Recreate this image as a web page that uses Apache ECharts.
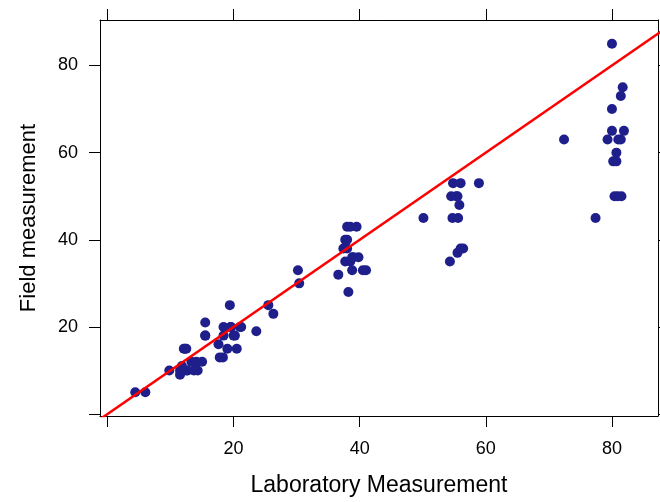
<!DOCTYPE html>
<html>
<head>
<meta charset="utf-8">
<script src="https://cdn.jsdelivr.net/npm/echarts@6/dist/echarts.min.js"></script>
<style>html,body{margin:0;padding:0;background:#fff;overflow:hidden}#c{width:660px;height:502px}</style>
</head>
<body>
<div id="c"></div>
<script>
// Laboratory measurement (x) and Field measurement (y)
const labX = [4.4,6.0,
  9.8,11.5,11.5,12.0,12.5,12.7,13.7,14.3,
  11.8,13.3,14.1,15.0,
  12.1,12.3,12.5,
  17.8,18.3,17.6,
  19.0,20.5,
  15.5,15.5,18.4,20.0,20.2,
  15.5,
  18.4,19.5,19.6,21.0,21.2,
  23.6,19.4,25.5,26.3,
  30.2,30.4,
  36.6,38.2,38.8,40.5,41.0,
  37.7,38.5,
  38.8,39.0,39.8,
  37.4,38.0,
  37.7,38.0,
  38.0,38.5,39.5,
  50.1,
  54.3,55.5,56.0,56.4,
  54.7,55.6,
  55.8,
  54.5,55.3,55.5,
  54.8,56.0,58.9,
  72.4,77.4,
  80.0,81.7,81.4,80.0,80.0,81.9,
  79.3,81.0,81.4,
  80.7,80.2,80.7,
  80.4,80.9,81.5];
const fieldY = [5,5,
  10,9,10,10,10,10,10,10,
  11,12,12,12,
  15,15,15,
  13,13,16,
  15,15,
  18,18,18,18,18,
  21,
  20,20,20,20,20,
  19,25,25,23,
  33,30,
  32,28,33,33,33,
  35,35,
  36,36,36,
  38,38,
  40,40,
  43,43,43,
  45,
  35,37,38,38,
  45,45,
  48,
  50,50,50,
  53,53,53,
  63,45,
  85,75,73,70,65,65,
  63,63,63,
  60,58,58,
  50,50,50];
const tickValues = [0,20,40,60,80];
const labelValues = [20,40,60,80];
const xRange = [-1.19, 87.3];
const yRange = [-0.45, 90.45];
const abline = {intercept: 0, slope: 1};

const pts = labX.map((x,i)=>[x, fieldY[i]]);
const lineData = [xRange[0]-5, xRange[1]+5].map(x=>[x, abline.intercept + abline.slope*x]);

const font = 'Liberation Sans, Arial, sans-serif';
const axLine = {show:true, onZero:false, lineStyle:{color:'#000', width:1}};
const tick = {show:true, inside:false, length:11, customValues:tickValues, lineStyle:{color:'#000'}};
const chart = echarts.init(document.getElementById('c'), null, {renderer:'canvas'});
chart.setOption({
  animation:false,
  backgroundColor:'#fff',
  grid:{left:100, right:2, top:20, bottom:82},
  xAxis:[{
    type:'value', position:'bottom', min:xRange[0], max:xRange[1],
    axisLine:axLine, splitLine:{show:false}, axisTick:tick,
    axisLabel:{show:true, customValues:labelValues, margin:24, fontSize:18, color:'#000', fontFamily:font},
    name:'Laboratory Measurement', nameLocation:'middle', nameGap:58,
    nameTextStyle:{fontSize:23, color:'#000', fontFamily:font}
  },{
    type:'value', position:'top', min:xRange[0], max:xRange[1],
    axisLine:axLine, splitLine:{show:false}, axisTick:tick,
    axisLabel:{show:false}
  }],
  yAxis:[{
    type:'value', position:'left', min:yRange[0], max:yRange[1],
    axisLine:axLine, splitLine:{show:false}, axisTick:tick,
    axisLabel:{show:true, customValues:labelValues, margin:22, fontSize:18, color:'#000', fontFamily:font},
    name:'Field measurement', nameLocation:'middle', nameGap:60, nameRotate:90,
    nameTextStyle:{fontSize:22, color:'#000', fontFamily:font}
  },{
    type:'value', position:'right', min:yRange[0], max:yRange[1],
    axisLine:axLine, splitLine:{show:false}, axisTick:tick,
    axisLabel:{show:false}
  }],
  series:[{
    type:'scatter', data:pts, symbol:'circle', symbolSize:10,
    itemStyle:{color:'#1f1f8c', opacity:1}
  },{
    type:'line', data:lineData, showSymbol:false, symbol:'none', clip:true,
    lineStyle:{color:'#ff0000', width:2.5}, z:3
  }]
});
</script>
</body>
</html>
